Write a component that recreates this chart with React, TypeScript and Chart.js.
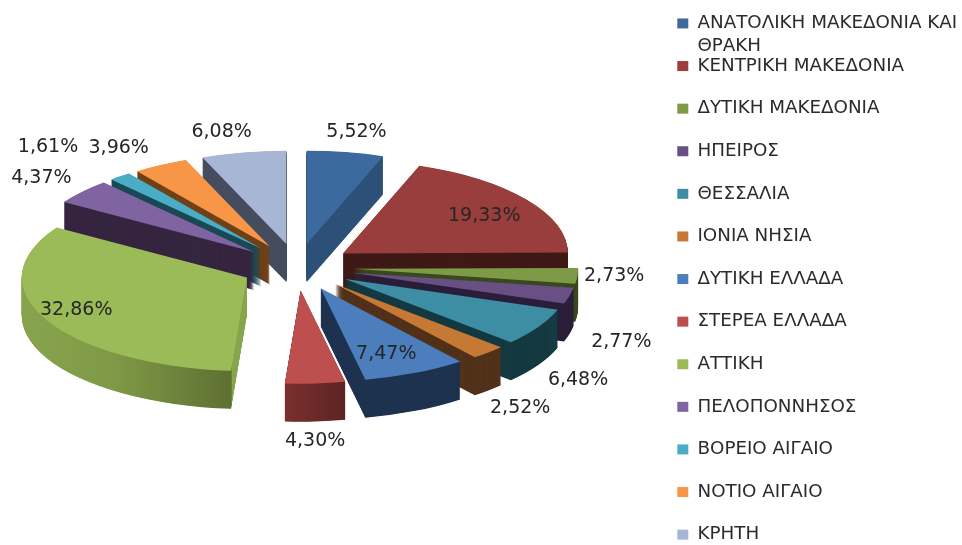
import React, { useEffect, useRef } from "react";
import { Chart, registerables } from "chart.js";

Chart.register(...registerables);

const regions = [
  "ΑΝΑΤΟΛΙΚΗ ΜΑΚΕΔΟΝΙΑ ΚΑΙ ΘΡΑΚΗ",
  "ΚΕΝΤΡΙΚΗ ΜΑΚΕΔΟΝΙΑ",
  "ΔΥΤΙΚΗ ΜΑΚΕΔΟΝΙΑ",
  "ΗΠΕΙΡΟΣ",
  "ΘΕΣΣΑΛΙΑ",
  "ΙΟΝΙΑ ΝΗΣΙΑ",
  "ΔΥΤΙΚΗ ΕΛΛΑΔΑ",
  "ΣΤΕΡΕΑ ΕΛΛΑΔΑ",
  "ΑΤΤΙΚΗ",
  "ΠΕΛΟΠΟΝΝΗΣΟΣ",
  "ΒΟΡΕΙΟ ΑΙΓΑΙΟ",
  "ΝΟΤΙΟ ΑΙΓΑΙΟ",
  "ΚΡΗΤΗ",
];
const shares = [5.52, 19.33, 2.73, 2.77, 6.48, 2.52, 7.47, 4.3, 32.86, 4.37, 1.61, 3.96, 6.08];
const topColors = [
  "#3d6a9e", "#993e3c", "#7f9a47", "#6a4f85", "#3d8ea5", "#c67835", "#4c7dbd",
  "#bd504e", "#9bbb59", "#8064a2", "#4bacc6", "#f79646", "#a7b6d4",
];
const legendColors = [
  "#3f689c", "#a03d3a", "#7f9a47", "#6a4f85", "#3d8ea5", "#c67835", "#4c7dbd",
  "#bd504e", "#9bbb59", "#8064a2", "#4bacc6", "#f79646", "#a7b6d4",
];
const sideColors = [
  "#2d5078", "#3f1a17", "#3a4a20", "#2b1f3a", "#153a42", "#52321a", "#1f3350",
  "#6a2a29", "#7f9a47", "#362640", "#1a4a55", "#6f4218", "#444c5e",
];
const labelNudges = [
  [11, -16], [-42, 19], [37, 0], [52, 45], [40, 51], [32, 53], [-29, -23],
  [0, 53], [30, -11], [-41, -11], [-72, -26], [-42, -13], [-22, -16],
];

const CANVAS_W = 962;
const CANVAS_H = 600;
const CANVAS_TOP = -10;
const CX = 297;
const CY = 267 - CANVAS_TOP;
const RADIUS = 225;
const SQUASH = 0.415;
const LABEL_SQUASH = 0.43;
const DEPTH = 38;
const LEGEND_FONT = { family: "'DejaVu Sans'", size: 18.3 };
const LEGEND_BOX = 11;
const LEGEND_LINE = 23;
const labelText = (v: number) => v.toFixed(2).replace(".", ",") + "%";

const pie3d = {
  id: "pie3d",
  beforeDatasetsDraw(chart: any) {
    const ctx = chart.ctx;
    const arcs: any[] = chart.getDatasetMeta(0).data;
    const order = arcs.map((a, i) => ({ a, i, m: (a.startAngle + a.endAngle) / 2 }));
    order.sort((p, q) => Math.sin(p.m) - Math.sin(q.m));
    for (const { a, i, m } of order) {
      const k = RADIUS / a.outerRadius;
      const apart = a.options.offset / 4;
      const ox = Math.cos(m) * apart;
      const oy = Math.sin(m) * apart;
      const paint = (fill: any, dy: number) => {
        const clone = Object.create(a);
        clone.options = { ...a.options, backgroundColor: fill, borderWidth: 0, offset: 0 };
        ctx.save();
        ctx.translate(CX, CY + dy);
        ctx.scale(k, k * SQUASH);
        ctx.translate(-a.x + ox, -a.y + oy);
        clone.draw(ctx);
        ctx.restore();
      };
      let side: any = sideColors[i];
      const toX = (px: number) => a.x - ox + (px - CX) / k;
      if (i === 8) {
        const g = ctx.createLinearGradient(toX(21), 0, toX(248), 0);
        g.addColorStop(0, "#87a44d");
        g.addColorStop(0.4, "#7f9a47");
        g.addColorStop(0.926, "#5f7032");
        g.addColorStop(0.93, "#87a54d");
        g.addColorStop(1, "#87a54d");
        side = g;
      } else if (i === 7) {
        const g = ctx.createLinearGradient(toX(285), 0, toX(346), 0);
        g.addColorStop(0, "#7a2f2e");
        g.addColorStop(1, "#5c2423");
        side = g;
      }
      for (let d = DEPTH; d > 0; d -= 0.5) paint(side, d);
      paint(topColors[i], 0);
    }
    return false;
  },
  afterDraw(chart: any) {
    const ctx = chart.ctx;
    const arcs: any[] = chart.getDatasetMeta(0).data;
    ctx.save();
    ctx.fillStyle = "#262626";
    ctx.textAlign = "center";
    ctx.textBaseline = "middle";
    ctx.font = "19px 'DejaVu Sans'";
    arcs.forEach((a, i) => {
      const m = (a.startAngle + a.endAngle) / 2;
      const reach = RADIUS + 56;
      const x = CX + reach * Math.cos(m) + labelNudges[i][0];
      const y = CY + reach * LABEL_SQUASH * Math.sin(m) + labelNudges[i][1];
      ctx.fillText(labelText(shares[i]), x, y);
    });
    const hit = chart.legend.legendHitBoxes[0];
    ctx.textAlign = "left";
    ctx.fillStyle = "#2b2b2b";
    ctx.font = `${LEGEND_FONT.size}px ${LEGEND_FONT.family}`;
    const words = regions[0].split(" ");
    ctx.fillText(
      words[words.length - 1],
      hit.left + LEGEND_BOX + LEGEND_FONT.size / 2,
      hit.top + hit.height / 2 + LEGEND_LINE
    );
    ctx.restore();
  },
};

export default function App() {
  const ref = useRef<HTMLCanvasElement>(null);
  useEffect(() => {
    const chart = new Chart(ref.current as HTMLCanvasElement, {
      type: "pie",
      data: {
        labels: regions,
        datasets: [
          { data: shares, backgroundColor: legendColors, borderWidth: 0, offset: 200 },
        ],
      },
      options: {
        responsive: false,
        animation: false,
        events: [],
        plugins: {
          tooltip: { enabled: false },
          legend: {
            position: "right",
            align: "start",
            maxWidth: 309,
            labels: {
              boxWidth: LEGEND_BOX,
              boxHeight: 10,
              padding: 24.3,
              color: "#2b2b2b",
              font: LEGEND_FONT,
              generateLabels(c: any) {
                const items = (Chart as any).overrides.doughnut.plugins.legend.labels.generateLabels(c);
                const words = regions[0].split(" ");
                items[0].text = words.slice(0, -1).join(" ");
                return items;
              },
            },
          },
        },
      } as any,
      plugins: [pie3d],
    });
    return () => chart.destroy();
  }, []);
  return (
    <div style={{ position: "fixed", inset: 0, width: CANVAS_W, height: 545, overflow: "hidden", background: "#fff" }}>
      <canvas
        ref={ref}
        width={CANVAS_W}
        height={CANVAS_H}
        style={{ position: "absolute", left: 0, top: CANVAS_TOP, display: "block" }}
      />
    </div>
  );
}
